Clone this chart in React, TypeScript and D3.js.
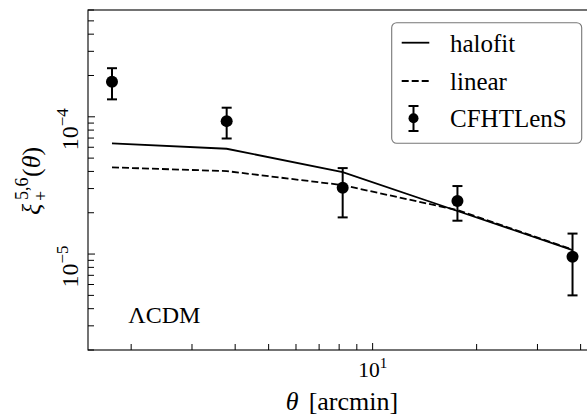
import React from "react";
import * as d3 from "d3";

const thetaArcmin = [1.76, 3.78, 8.19, 17.6, 37.9];
const xiPlus = [1.8e-4, 9.3e-5, 3.04e-5, 2.44e-5, 9.55e-6];
const xiErr = [4.6e-5, 2.35e-5, 1.19e-5, 6.9e-6, 4.55e-6];
const halofit = [6.4e-5, 5.85e-5, 3.95e-5, 2.06e-5, 1.07e-5];
const linear = [4.28e-5, 4.02e-5, 3.18e-5, 2.09e-5, 1.078e-5];
const legendLabels = ["halofit", "linear", "CFHTLenS"];
const xTickLabels = [{ v: 10, base: "10", exp: "1" }];
const yTickLabels = [
  { v: 1e-4, base: "10", exp: "\u22124" },
  { v: 1e-5, base: "10", exp: "\u22125" },
];

const W = 587;
const H = 417;
const L = 88, R = 595.6, T = 10, B = 350;
const FONT = "Liberation Serif, serif";

export default function App() {
  const x = d3.scaleLog().domain([1.5, 44.2]).range([L, R]);
  const y = d3.scaleLog().domain([2e-6, 6e-4]).range([B, T]);

  const isMajor = (v: number) => Math.abs(Math.log10(v) - Math.round(Math.log10(v))) < 1e-9;
  const xt = x.ticks();
  const yt = y.ticks();

  const line = d3
    .line<[number, number]>()
    .x((d) => x(d[0]))
    .y((d) => y(d[1]));
  const halofitPts = thetaArcmin.map((t, i) => [t, halofit[i]] as [number, number]);
  const linearPts = thetaArcmin.map((t, i) => [t, linear[i]] as [number, number]);

  const cap = 5;
  const lx0 = 401.7, lx1 = 429.3, ltx = 450;
  const legY = [42.7, 81, 118.3];
  const tf = { fontFamily: FONT };

  return (
    <svg
      width={W}
      height={H}
      style={{ position: "absolute", left: 0, top: 0, background: "#fff", fontFamily: FONT }}
    >
      <rect x={0} y={0} width={W} height={H} fill="#fff" />
      {xt.map((v, i) => (
        <line key={"xt" + i} x1={x(v)} x2={x(v)} y1={B} y2={B - (isMajor(v) ? 7 : 6)} stroke="#000" strokeWidth={1} />
      ))}
      {yt.map((v, i) => (
        <line key={"yt" + i} x1={L} x2={L + (isMajor(v) ? 7 : 6)} y1={y(v)} y2={y(v)} stroke="#000" strokeWidth={1} />
      ))}
      <path d={line(halofitPts) || ""} fill="none" stroke="#000" strokeWidth={1.8} />
      <path d={line(linearPts) || ""} fill="none" stroke="#000" strokeWidth={1.8} strokeDasharray="7,3" />
      {thetaArcmin.map((t, i) => {
        const cx = x(t);
        const y0 = y(xiPlus[i] - xiErr[i]);
        const y1 = y(xiPlus[i] + xiErr[i]);
        return (
          <g key={"e" + i}>
            <line x1={cx} x2={cx} y1={y0} y2={y1} stroke="#000" strokeWidth={2} />
            <line x1={cx - cap} x2={cx + cap} y1={y0} y2={y0} stroke="#000" strokeWidth={2} />
            <line x1={cx - cap} x2={cx + cap} y1={y1} y2={y1} stroke="#000" strokeWidth={2} />
            <circle cx={cx} cy={y(xiPlus[i])} r={6} fill="#000" />
          </g>
        );
      })}
      <rect x={L} y={T} width={R - L} height={B - T} fill="none" stroke="#000" strokeWidth={1.1} />
      {xTickLabels.map((d, i) => (
        <text key={"xl" + i} x={x(d.v)} y={376.7} textAnchor="middle" fontSize={21.5} style={tf}>
          {d.base}
          <tspan dy={-9} fontSize={15}>{d.exp}</tspan>
        </text>
      ))}
      {yTickLabels.map((d, i) => (
        <text
          key={"yl" + i}
          transform={`translate(78,${y(d.v) + 12.5}) rotate(-90)`}
          textAnchor="middle"
          fontSize={24}
          style={tf}
        >
          {d.base}
          <tspan dy={-10} fontSize={17}>{d.exp}</tspan>
        </text>
      ))}
      <text x={342} y={410} textAnchor="middle" fontSize={26} style={tf}>
        <tspan fontStyle="italic">θ</tspan>
        <tspan dx={10}>[arcmin]</tspan>
      </text>
      <g transform="translate(40,215) rotate(-90)" fontSize={26} style={tf}>
        <text x={0} y={0} fontStyle="italic" style={tf}>ξ</text>
        <text x={14} y={7} fontSize={18} style={tf}>+</text>
        <text x={15} y={-12} fontSize={18} style={tf}>5,6</text>
        <text x={38} y={0} style={tf}>
          (<tspan fontStyle="italic">θ</tspan>)
        </text>
      </g>
      <text x={128.3} y={323.3} fontSize={24} style={tf}>ΛCDM</text>
      <rect x={391.7} y={22.7} width={190} height={120.6} rx={5} fill="#fff" stroke="#777" strokeWidth={1.1} />
      <line x1={lx0} x2={lx1} y1={legY[0]} y2={legY[0]} stroke="#000" strokeWidth={1.8} />
      <line x1={lx0} x2={lx1} y1={legY[1]} y2={legY[1]} stroke="#000" strokeWidth={1.8} strokeDasharray="7,3" />
      <g>
        <line x1={413.5} x2={413.5} y1={106} y2={131} stroke="#000" strokeWidth={2} />
        <line x1={408.5} x2={418.5} y1={106} y2={106} stroke="#000" strokeWidth={2} />
        <line x1={408.5} x2={418.5} y1={131} y2={131} stroke="#000" strokeWidth={2} />
        <circle cx={413.5} cy={legY[2]} r={5} fill="#000" />
      </g>
      {legendLabels.map((lab, i) => (
        <text key={"lg" + i} x={ltx} y={legY[i] + 9} fontSize={25} style={tf}>
          {lab}
        </text>
      ))}
    </svg>
  );
}
